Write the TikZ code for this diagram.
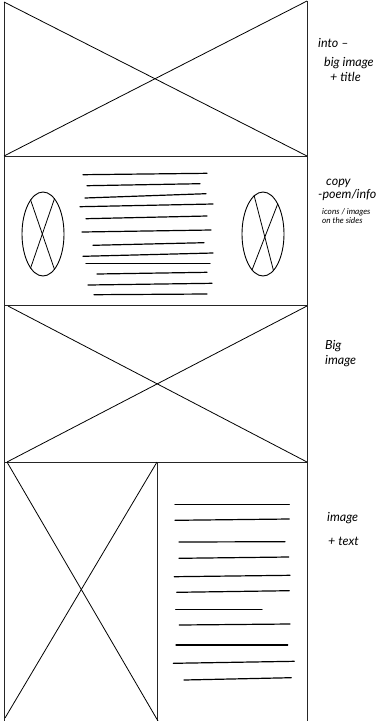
\documentclass[tikz,border=0pt]{standalone}
\usepackage{fontspec}
\newfontfamily\hand{Lato}
\usetikzlibrary{shapes.geometric}
\begin{document}
\begin{tikzpicture}[x=1pt,y=-1pt,
  frame/.style={line width=0.9pt, draw=black!85},
  cross/.style={line width=0.8pt},
  txt/.style={line width=1.2pt, line cap=round},
  oval/.style={ellipse, draw, line width=0.9pt, minimum width=42pt, minimum height=84pt, inner sep=0pt},
  note/.style={font=\hand\itshape\fontsize{12.5}{14}\selectfont, anchor=base west, inner sep=0pt},
  small/.style={font=\hand\itshape\fontsize{8.2}{9}\selectfont, anchor=base west, inner sep=0pt}]
\useasboundingbox (0,0) rectangle (384,721);
% frame coordinates
\coordinate (tl) at (4,2);
\coordinate (tr) at (307,1);
\coordinate (a1l) at (4,156);
\coordinate (a1r) at (307,156);
\coordinate (a2l) at (4,305);
\coordinate (a2r) at (307,305);
\coordinate (a3l) at (4,462);
\coordinate (a3r) at (307,462);
\coordinate (bl) at (4,721);
\coordinate (br) at (307,721);
\coordinate (m3) at (157,462);
\coordinate (mb) at (157,721);
\draw[frame] (tl) -- (bl);
\draw[frame] (tr) -- (br);
\draw[frame] (a1l) -- (a1r);
\draw[frame] (a2l) -- (a2r);
\draw[frame] (a3l) -- (a3r);
\draw[frame] (m3) -- (mb);
% section 1 cross
\draw[cross] (tl) -- (a1r);
\draw[cross] (tr) -- (a1l);
% section 2 ovals
\node[oval] (ovl) at (43,234) {};
\node[oval] (ovr) at (263,234) {};
\draw[cross] (ovl.110) -- (ovl.-72);
\draw[cross] (ovl.72) -- (ovl.-110);
\draw[cross] (ovr.103) -- (ovr.-74);
\draw[cross] (ovr.64) -- (ovr.-107);
% section 2 text lines
\draw[txt] (83,174.7) -- (207,173.3);
\draw[txt] (87,185.7) -- (200,183.7);
\draw[txt] (85,198) -- (206,193.7);
\draw[txt] (80,206.7) -- (213,204);
\draw[txt] (86,218.7) -- (207,216);
\draw[txt] (82,232) -- (211,230);
\draw[txt] (93,245.3) -- (204,242.7);
\draw[txt] (83,256.3) -- (213,253);
\draw[txt] (86,263.3) -- (210,263.3);
\draw[txt] (97,274) -- (207,272.3);
\draw[txt] (88,285) -- (212,283.3);
\draw[txt] (94,294.7) -- (207,294);
% section 3 cross
\coordinate (c3a) at (8,306);
\coordinate (c3b) at (307,462);
\coordinate (c3c) at (307,306);
\coordinate (c3d) at (7,462);
\draw[cross] (c3a) -- (c3b);
\draw[cross] (c3c) -- (c3d);
% section 4 cross
\coordinate (c4a) at (7,462);
\coordinate (c4b) at (158,721);
\coordinate (c4c) at (157,462);
\coordinate (c4d) at (5,718);
\draw[cross] (c4a) -- (c4b);
\draw[cross] (c4c) -- (c4d);
% section 4 text lines
\draw[txt] (175,504.3) -- (289.3,504.3);
\draw[txt] (175,520.3) -- (289.3,519);
\draw[txt] (179,542) -- (285,541.7);
\draw[txt] (179,558.3) -- (288.7,557);
\draw[txt] (174.3,576.7) -- (290,575.3);
\draw[txt] (176.7,592.3) -- (289.3,590.7);
\draw[txt] (175.7,609.7) -- (262,609.7);
\draw[txt] (179.3,625) -- (290,624);
\draw[txt] (176,645) -- (287.7,645);
\draw[txt] (173.3,663.3) -- (294.3,661.3);
\draw[txt] (184,680) -- (291.3,677.7);
% notes
\node[note] (n1) at (318,47) {into –};
\node[note] (n2) at (324,66) {big image};
\node[note] (n3) at (330,81) {+ title};
\node[note] (n4) at (326,185) {copy};
\node[note] (n5) at (318,198) {-poem/info};
\node[small] (n6) at (322,214) {icons / images};
\node[small] (n7) at (322,223) {on the sides};
\node[note] (n8) at (325,349) {Big};
\node[note] (n9) at (325,364) {image};
\node[note] (n10) at (327,521) {image};
\node[note] (n11) at (328,545) {+ text};
\end{tikzpicture}
\end{document}
